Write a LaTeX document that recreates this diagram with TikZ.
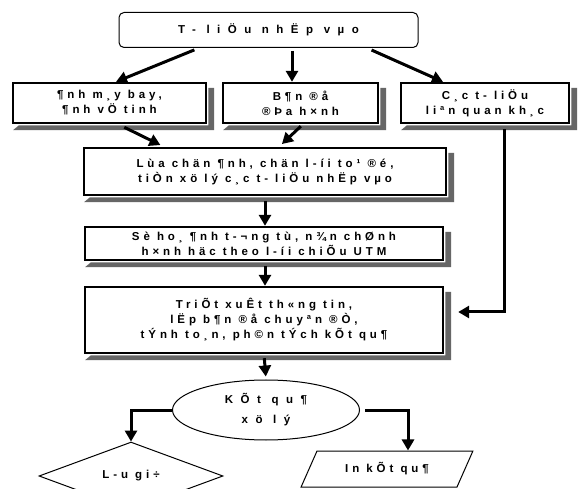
\documentclass[tikz,border=0pt]{standalone}
\usepackage{fontspec}
\newfontfamily\lbl{Liberation Sans}[LetterSpace=34]
\newfontfamily\lblw{Liberation Sans}[LetterSpace=65]
\usetikzlibrary{shapes.geometric,arrows.meta}
\tikzset{
  txt/.style={align=center,font=\lbl\bfseries\fontsize{11.5}{15}\selectfont,inner sep=0pt},
  wtxt/.style={align=center,font=\lblw\bfseries\fontsize{11.5}{15}\selectfont,inner sep=0pt},
  box/.style={txt,draw,line width=2.4pt,fill=white},
  shadowfill/.style={fill=black!60},
  arr/.style={line width=3pt,-{Triangle[length=11pt,width=12pt]}},
  thin/.style={draw,line width=1pt,fill=white}
}
\begin{document}
\begin{tikzpicture}[x=1pt,y=-1pt]
\fill[white] (0,0) rectangle (579,489);
\useasboundingbox (0,0) rectangle (579,489);
% nodes
\node[wtxt,thin,rounded corners=5pt,minimum width=299pt,minimum height=35pt] (top) at (268.5,30) {T- liÖu nhËp vµo};
\node[box,minimum width=193pt,minimum height=40pt] (b1) at (109.5,103) {¶nh m¸y bay,\\¶nh vÖ tinh};
\node[box,minimum width=155pt,minimum height=40pt] (b2) at (300.5,103) {B¶n ®å\\®Þa h×nh};
\node[box,minimum width=168pt,minimum height=40pt] (b3) at (485,103) {C¸c t- liÖu\\liªn quan kh¸c};
\node[box,minimum width=362pt,minimum height=47pt] (r2) at (265,171.5) {Lùa chän ¶nh, chän l-íi to¹ ®é,\\tiÒn xö lý c¸c t- liÖu nhËp vµo};
\node[box,minimum width=358pt,minimum height=33pt] (r3) at (264,243.5) {Sè ho¸ ¶nh t-¬ng tù, n¾n chØnh\\h×nh häc theo l-íi chiÕu UTM};
\node[box,minimum width=358pt,minimum height=66pt] (r4) at (264,320) {TriÕt xuÊt th«ng tin,\\lËp b¶n ®å chuyªn ®Ò,\\tÝnh to¸n, ph©n tÝch kÕt qu¶};
% shadows as L-shaped strips outside the boxes
\foreach \n in {b1,b2,b3,r2,r3,r4}{
  \fill[shadowfill] ([shift={(1.2,6)}]\n.south west) -| ([shift={(7,6)}]\n.north east) -- ([shift={(1.2,6)}]\n.north east) |- ([shift={(7,1.2)}]\n.south west) -- cycle;
}
\node[wtxt,thin,ellipse,minimum width=187pt,minimum height=60pt] (ell) at (266,410) {KÕt qu¶\\[5pt]xö lý};
\node[txt,thin,diamond,minimum width=184pt,minimum height=62pt] (dia) at (131,476) {L-u gi÷};
\node[txt,thin,trapezium,trapezium left angle=53,trapezium right angle=127,trapezium stretches=true,minimum width=172pt,minimum height=36pt] (par) at (387,469) {In kÕt qu¶};
% connectors
\draw[arr,shorten <=5pt] ([xshift=-69.5pt]top.south) -- ([xshift=6.5pt]b1.north);
\draw[arr,shorten <=3pt] ([xshift=23.5pt]top.south) -- ([xshift=-8.5pt]b2.north);
\draw[arr,shorten <=5pt] ([xshift=98.5pt]top.south) -- ([xshift=-42pt]b3.north);
\draw[arr,shorten <=7pt,shorten >=4pt] ([xshift=8.5pt]b1.south) -- ([xshift=-101pt]r2.north);
\draw[arr,shorten <=3pt,shorten >=4pt] ([xshift=2.5pt]b2.south) -- ([xshift=14pt]r2.north);
\draw[arr,shorten <=5pt] (r2.south) -- (r3.north -| r2.south);
\draw[arr,shorten <=5pt] ([xshift=1pt]r3.south) -- ([xshift=1pt]r4.north);
\draw[arr,shorten <=4pt,shorten >=3pt] (r4.south) -- (ell.north);
\draw[arr,shorten <=5pt,shorten >=14pt] ([xshift=19pt]b3.south) |- ([yshift=8pt]r4.east);
\draw[arr] (ell.west) -| (dia.north);
\draw[arr,shorten <=5pt] (ell.east) -| ([xshift=21pt]par.north);
\end{tikzpicture}
\end{document}
